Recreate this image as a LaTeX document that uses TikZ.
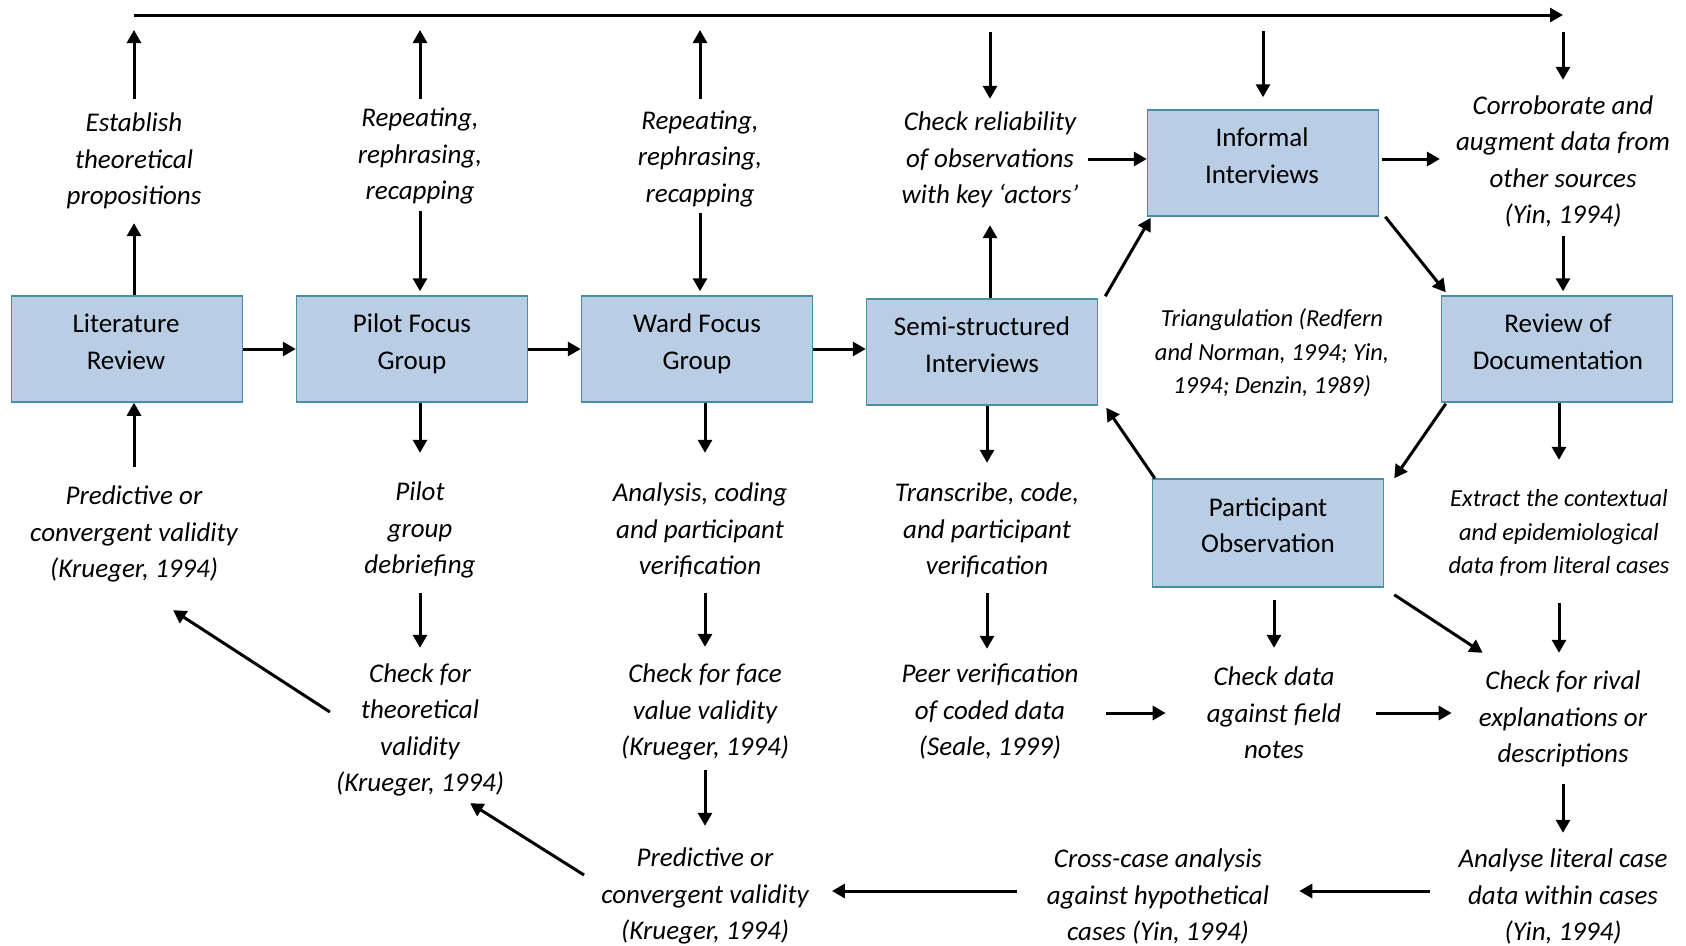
\documentclass[tikz,border=0pt]{standalone}
\usepackage{fontspec}
\setmainfont{Carlito}
\usetikzlibrary{arrows.meta}
\definecolor{boxfill}{RGB}{185,205,228}
\definecolor{boxedge}{RGB}{74,142,164}
\newcommand{\mytop}{\rule{0pt}{25.55pt}}
\newcommand{\mysmalltop}{\rule{0pt}{23.6pt}}
\begin{document}
\begin{tikzpicture}[x=1pt,y=-1pt,
  box/.style={draw=boxedge, fill=boxfill, line width=1.5pt, minimum width=231pt, minimum height=106pt, inner sep=0pt},
  btxt/.style={align=center, font=\fontsize{27}{36.5}\selectfont, inner sep=0pt, execute at begin node=\strut, execute at end node=\strut},
  itxt/.style={align=center, font=\fontsize{27}{36.5}\selectfont\itshape, inner xsep=6pt, inner ysep=0pt,
    execute at end node={\rule[-10.95pt]{0pt}{10.95pt}}},
  stxt/.style={align=center, font=\fontsize{24.5}{33.7}\selectfont\itshape, inner xsep=6pt, inner ysep=0pt,
    execute at end node={\rule[-10.1pt]{0pt}{10.1pt}}},
  arr/.style={line width=3pt, -{Triangle[length=13pt,width=14pt]}},
]
\useasboundingbox (0,0) rectangle (1686,945);
\coordinate (tl) at (134,15);
\coordinate (tr) at (1563,15);

% boxes
\node[box] (lit) at (127,349) {};
\node[box] (pilot) at (412,349) {};
\node[box] (ward) at (697,349) {};
\node[box] (semi) at (982,352) {};
\node[box] (inf) at (1263,163) {};
\node[box] (rev) at (1557,349) {};
\node[box, minimum height=108pt] (part) at (1268,533) {};

\node[btxt] (littext) at (126,347) {Literature\\Review};
\node[btxt] (pilottext) at (412,347) {Pilot Focus\\Group};
\node[btxt] (wardtext) at (697,347) {Ward Focus\\Group};
\node[btxt] (semitext) at (982,350) {Semi-structured\\Interviews};
\node[btxt] (inftext) at (1262,161) {Informal\\Interviews};
\node[btxt] (revtext) at (1558,347) {Review of\\Documentation};
\node[btxt] (parttext) at (1268,530.5) {Participant\\Observation};

% texts
\node[itxt] (estab) at (134,161) {\mytop Establish\\theoretical\\propositions};
\node[itxt] (rep1) at (420,156) {\mytop Repeating,\\rephrasing,\\recapping};
\node[itxt] (rep2) at (700,158.5) {\mytop Repeating,\\rephrasing,\\recapping};
\node[itxt] (checkrel) at (990,160) {\mytop Check reliability\\of observations\\with key ‘actors’};
\node[itxt] (corrob) at (1563,161.5) {\mytop Corroborate and\\augment data from\\other sources\\(Yin, 1994)};
\node[stxt] (triang) at (1272,353.5) {\mysmalltop Triangulation (Redfern\\and Norman, 1994; Yin,\\1994; Denzin, 1989)};
\node[itxt] (pred1) at (134,534) {\mytop Predictive or\\convergent validity\\(Krueger, 1994)};
\node[itxt] (pilotdeb) at (420,530) {\mytop Pilot\\group\\debriefing};
\node[itxt] (analysis) at (700,531) {\mytop Analysis, coding\\and participant\\verification};
\node[itxt] (transcribe) at (987,531) {\mytop Transcribe, code,\\and participant\\verification};
\node[stxt] (extract) at (1559,533.5) {\mysmalltop Extract the contextual\\and epidemiological\\data from literal cases};
\node[itxt] (checktheo) at (420,729.5) {\mytop Check for\\theoretical\\validity\\(Krueger, 1994)};
\node[itxt] (checkface) at (705,712) {\mytop Check for face\\value validity\\(Krueger, 1994)};
\node[itxt] (peer) at (990,712) {\mytop Peer verification\\of coded data\\(Seale, 1999)};
\node[itxt] (checkdata) at (1274,715) {\mytop Check data\\against field\\notes};
\node[itxt] (rival) at (1563,719) {\mytop Check for rival\\explanations or\\descriptions};
\node[itxt] (pred2) at (705,896) {\mytop Predictive or\\convergent validity\\(Krueger, 1994)};
\node[itxt] (crosscase) at (1158,897) {\mytop Cross-case analysis\\against hypothetical\\cases (Yin, 1994)};
\node[itxt] (analyse) at (1563,897) {\mytop Analyse literal case\\data within cases\\(Yin, 1994)};

% connectors
\draw[arr] (tl) -- (tr);
% column 1
\draw[arr, shorten >=7.25pt] (estab.south |- lit.north) -- (estab.south);
\draw[arr, shorten <=7.25pt, shorten >=15pt] (estab.north) -- (estab.north |- tl);
\draw[arr, shorten <=12.25pt] (pred1.north) -- (pred1.north |- lit.south);
\draw[arr] (lit.east) -- (pilot.west);
% column 2
\draw[arr, shorten <=2.25pt, shorten >=15pt] (rep1.north) -- (rep1.north |- tl);
\draw[arr, shorten >=4pt] (rep1.south) -- (rep1.south |- pilot.north);
\draw[arr, shorten >=22.25pt] (pilotdeb.north |- pilot.south) -- (pilotdeb.north);
\draw[arr, shorten <=8.25pt, shorten >=8.5pt] (pilotdeb.south) -- (pilotdeb.south |- checktheo.north);
\draw[arr] ([shift={(0,-17.5)}]checktheo.west) -- ([shift={(39,21.25)}]pred1.south);
\draw[arr] (pilot.east) -- (ward.west);
% column 3
\draw[arr, shorten <=4.75pt, shorten >=15pt] (rep2.north) -- (rep2.north |- tl);
\draw[arr, shorten >=4pt] (rep2.south) -- (rep2.south |- ward.north);
\draw[arr, shorten >=23.25pt] (checkface.north |- ward.south) -- (checkface.north |- analysis.north);
\draw[arr, shorten <=7.25pt, shorten >=10.25pt] (checkface.north |- analysis.south) -- (checkface.north);
\draw[arr, shorten <=3.25pt, shorten >=15.25pt] (checkface.south) -- (checkface.south |- pred2.north);
\draw[arr] ([shift={(-11,-21)}]pred2.west) -- ([shift={(-40,0.5)}]checktheo.south east);
\draw[arr] (ward.east) -- (ward.east -| semi.west);
% column 4
\draw[arr, shorten <=17pt, shorten >=6.25pt] (checkrel.north |- tl) -- (checkrel.north);
\draw[arr, shorten >=10.25pt] (checkrel.south |- semi.north) -- (checkrel.south);
\draw[arr, shorten <=3pt] ([shift={(0,-1)}]checkrel.east) -- ([shift={(0,-1)}]checkrel.east -| inf.west);
\draw[arr, shorten >=13.25pt] (transcribe.north |- semi.south) -- (transcribe.north);
\draw[arr, shorten <=7.25pt, shorten >=8.25pt] (transcribe.south) -- (transcribe.south |- peer.north);
\draw[arr, shorten <=21pt, shorten >=35pt] ([shift={(0,-2)}]checkdata.west -| peer.east) -- ([shift={(0,-2)}]checkdata.west);
% triangulation
\draw[arr, shorten <=16pt, shorten >=12pt] (inf.north |- tl) -- (inf.north);
\draw[arr, shorten <=3pt, shorten >=10pt] ([shift={(0,-2.5)}]corrob.west -| inf.east) -- ([shift={(0,-2.5)}]corrob.west);
\draw[arr] ([shift={(6,0)}]inf.south east) -- ([shift={(5,-3)}]rev.north west);
\draw[arr] ([shift={(7,-2)}]semi.north east) -- ([shift={(4,1)}]inf.south west);
\draw[arr] ([shift={(3,0)}]part.north west) -- ([shift={(8,2)}]semi.south east);
\draw[arr] ([shift={(5,1)}]rev.south west) -- ([shift={(10,0)}]part.north east);
\draw[arr, shorten <=12pt, shorten >=12.25pt] (checkdata.north |- part.south) -- (checkdata.north);
\draw[arr, shorten <=29pt, shorten >=21pt] ([shift={(0,-2)}]checkdata.east) -- ([shift={(0,-2)}]checkdata.east -| rival.west);
\draw[arr] ([shift={(10,7)}]part.south east) -- ([shift={(10,-11.25)}]rival.north west);
% right column
\draw[arr, shorten <=17pt, shorten >=8.5pt] (corrob.north |- tl) -- (corrob.north);
\draw[arr, shorten <=1.5pt, shorten >=4pt] (corrob.south) -- (corrob.south |- rev.north);
\draw[arr, shorten >=22.95pt] (extract.north |- rev.south) -- (extract.north);
\draw[arr, shorten <=18.95pt, shorten >=11.25pt] (extract.south) -- (extract.south |- rival.north);
\draw[arr, shorten <=10.25pt, shorten >=9.25pt] (rival.south) -- (rival.south |- analyse.north);
% bottom row
\draw[arr, shorten <=22pt, shorten >=24pt] ([shift={(0,-6)}]analyse.west) -- ([shift={(0,-6)}]analyse.west -| crosscase.east);
\draw[arr, shorten <=24pt, shorten >=17pt] ([shift={(0,-6)}]crosscase.west) -- ([shift={(0,-6)}]crosscase.west -| pred2.east);
\end{tikzpicture}
\end{document}
